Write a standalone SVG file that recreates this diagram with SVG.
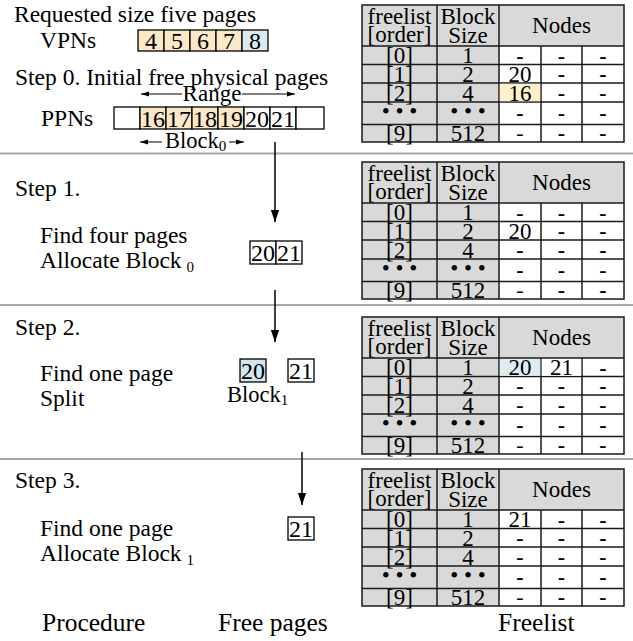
<svg xmlns="http://www.w3.org/2000/svg" width="633" height="641" viewBox="0 0 633 641" font-family="'Liberation Serif', 'Times New Roman', serif">
  <style>
    text { font-family: "Liberation Serif", "Times New Roman", serif; fill: #000; }
    .lbl { font-size: 23.5px; }
    .big { font-size: 25.5px; }
    .cell { font-size: 23px; text-anchor: middle; }
    .num { font-size: 24px; text-anchor: middle; }
    .hdr { font-size: 23px; text-anchor: middle; }
    .dash { font-size: 22px; font-weight: bold; text-anchor: middle; }
    .thin { font-size: 22px; text-anchor: middle; }
    .sub { font-size: 15px; }
    .box { stroke: #000; stroke-width: 1.3; }
    .grid { stroke: #1a1a1a; stroke-width: 1.5; fill: none; }
    .sep { stroke: #a6a6a6; stroke-width: 2; }
    .wire { stroke: #000; stroke-width: 1.5; fill: none; }
    .thinwire { stroke: #000; stroke-width: 1; fill: none; }
  </style>
  <defs>
    <marker id="tip" markerWidth="12" markerHeight="10" refX="13" refY="5" orient="auto" markerUnits="userSpaceOnUse" viewBox="0 0 13 10">
      <path d="M0,0.5 L13,5 L0,9.5 Z" fill="#000"/>
    </marker>
    <marker id="small" markerWidth="8" markerHeight="6" refX="8" refY="3" orient="auto" markerUnits="userSpaceOnUse" viewBox="0 0 8 6">
      <path d="M0,0.5 L8,3 L0,5.5 Z" fill="#000"/>
    </marker>
    <!-- freelist table frame: header, order and size columns, node grid -->
    <g id="freelist-frame">
      <rect x="362" y="0" width="262" height="41" fill="#d9d9d9"/>
      <rect x="362" y="41" width="137" height="96" fill="#d9d9d9"/>
      <rect x="499" y="41" width="125" height="96" fill="#fff"/>
      <rect class="grid" x="362" y="0" width="262" height="137"/>
      <line class="grid" x1="437" y1="0" x2="437" y2="137"/>
      <line class="grid" x1="499" y1="0" x2="499" y2="137"/>
      <line class="grid" x1="541" y1="41" x2="541" y2="137"/>
      <line class="grid" x1="582" y1="41" x2="582" y2="137"/>
      <line class="grid" x1="362" y1="41" x2="624" y2="41"/>
      <line class="grid" x1="362" y1="59.5" x2="624" y2="59.5"/>
      <line class="grid" x1="362" y1="78" x2="624" y2="78"/>
      <line class="grid" x1="362" y1="97" x2="624" y2="97"/>
      <line class="grid" x1="362" y1="119.5" x2="624" y2="119.5"/>
      <text class="hdr" x="399.5" y="19" font-size="24">freelist</text>
      <text class="hdr" x="399.5" y="37">[order]</text>
      <text class="hdr" x="468" y="19">Block</text>
      <text class="hdr" x="468" y="38">Size</text>
      <text class="hdr" x="561.5" y="28">Nodes</text>
      <text class="cell" x="399.5" y="58">[0]</text>
      <text class="cell" x="399.5" y="76.5">[1]</text>
      <text class="cell" x="399.5" y="95.5">[2]</text>
      <text class="cell" x="399.5" y="114">• • •</text>
      <text class="cell" x="399.5" y="135.5">[9]</text>
      <text class="cell" x="468" y="58">1</text>
      <text class="cell" x="468" y="76.5">2</text>
      <text class="cell" x="468" y="95.5">4</text>
      <text class="cell" x="468" y="114">• • •</text>
      <text class="cell" x="468" y="135.5">512</text>
      <!-- columns 2 and 3 of the node grid are empty in every row -->
      <g class="dash">
        <text x="561.5" y="57.5">-</text><text x="603" y="57.5">-</text>
        <text x="561.5" y="76">-</text><text x="603" y="76">-</text>
        <text x="561.5" y="95">-</text><text x="603" y="95">-</text>
        <text x="561.5" y="115">-</text><text x="603" y="115">-</text>
        <text x="561.5" y="135">-</text><text x="603" y="135">-</text>
      </g>
      <text class="thin" x="520" y="135">-</text>
    </g>
  </defs>

  <!-- section separators -->
  <g id="separators">
    <line class="sep" x1="0" y1="153.5" x2="633" y2="153.5"/>
    <line class="sep" x1="0" y1="305" x2="633" y2="305"/>
    <line class="sep" x1="0" y1="459" x2="633" y2="459"/>
  </g>

  <!-- step 0: request and initial pages -->
  <g id="step0">
    <text class="lbl" x="14" y="22">Requested size five pages</text>
    <text class="lbl" x="40" y="48">VPNs</text>
    <g id="vpns">
      <rect class="box" x="138" y="30" width="26" height="21" fill="#fbe8c6"/>
      <rect class="box" x="164" y="30" width="26" height="21" fill="#fbe8c6"/>
      <rect class="box" x="190" y="30" width="26" height="21" fill="#fbe8c6"/>
      <rect class="box" x="216" y="30" width="26" height="21" fill="#fbe8c6"/>
      <rect class="box" x="242" y="30" width="26" height="21" fill="#dbeaf0"/>
      <text class="num" x="151" y="48.5">4</text>
      <text class="num" x="177" y="48.5">5</text>
      <text class="num" x="203" y="48.5">6</text>
      <text class="num" x="229" y="48.5">7</text>
      <text class="num" x="255" y="48.5">8</text>
    </g>
    <text class="lbl" x="15" y="85">Step 0. Initial free physical pages</text>
    <g id="range">
      <line class="thinwire" x1="182" y1="94" x2="141" y2="94" marker-end="url(#small)"/>
      <line class="thinwire" x1="242" y1="94" x2="295" y2="94" marker-end="url(#small)"/>
      <text class="cell" x="212" y="101">Range</text>
    </g>
    <text class="lbl" x="41" y="126">PPNs</text>
    <g id="ppns">
      <rect class="box" x="114" y="107" width="26" height="22" fill="#fff"/>
      <rect class="box" x="140" y="107" width="26" height="22" fill="#fbe8c6"/>
      <rect class="box" x="166" y="107" width="26" height="22" fill="#fbe8c6"/>
      <rect class="box" x="192" y="107" width="26" height="22" fill="#fbe8c6"/>
      <rect class="box" x="218" y="107" width="26" height="22" fill="#fbe8c6"/>
      <rect class="box" x="244" y="107" width="26" height="22" fill="#fff"/>
      <rect class="box" x="270" y="107" width="26" height="22" fill="#fff"/>
      <rect class="box" x="296" y="107" width="28" height="22" fill="#fff"/>
      <text class="num" x="153" y="126.5">16</text>
      <text class="num" x="179" y="126.5">17</text>
      <text class="num" x="205" y="126.5">18</text>
      <text class="num" x="231" y="126.5">19</text>
      <text class="num" x="257" y="126.5">20</text>
      <text class="num" x="283" y="126.5">21</text>
    </g>
    <g id="block0">
      <line class="thinwire" x1="162" y1="142" x2="140" y2="142" marker-end="url(#small)"/>
      <line class="thinwire" x1="229" y1="142" x2="244" y2="142" marker-end="url(#small)"/>
      <text x="165" y="148" font-size="22.5">Block<tspan class="sub" dy="3">0</tspan></text>
    </g>
  </g>
  <g id="table0">
    <use href="#freelist-frame" transform="translate(0 5)"/>
    <g transform="translate(0 5)">
      <text class="dash" x="520" y="57.5">-</text>
      <text class="cell" x="520" y="76.5">20</text>
      <rect x="499.8" y="78.8" width="40.4" height="17.4" fill="#fff0cc"/>
      <text class="cell" x="520" y="95.5">16</text>
      <text class="dash" x="520" y="115">-</text>
    </g>
  </g>

  <!-- step 1 -->
  <g id="step1">
    <text class="lbl" x="15" y="196">Step 1.</text>
    <text class="lbl" x="40" y="243">Find four pages</text>
    <text class="lbl" x="40" y="268">Allocate Block<tspan class="sub" dx="5" dy="4">0</tspan></text>
    <rect class="box" x="250" y="241" width="26" height="23" fill="#fff"/>
    <rect class="box" x="276" y="241" width="26" height="23" fill="#fff"/>
    <text class="num" x="263" y="261">20</text>
    <text class="num" x="289" y="261">21</text>
  </g>
  <g id="table1">
    <use href="#freelist-frame" transform="translate(0 162)"/>
    <g transform="translate(0 162)">
      <text class="dash" x="520" y="57.5">-</text>
      <text class="cell" x="520" y="76.5">20</text>
      <text class="dash" x="520" y="95">-</text>
      <text class="dash" x="520" y="115">-</text>
    </g>
  </g>

  <!-- step 2 -->
  <g id="step2">
    <text class="lbl" x="15" y="335">Step 2.</text>
    <text class="lbl" x="40" y="381">Find one page</text>
    <text class="lbl" x="40" y="406">Split</text>
    <rect class="box" x="240" y="359" width="26" height="23" fill="#d2e6ef"/>
    <rect class="box" x="288" y="359" width="26" height="23" fill="#fff"/>
    <text class="num" x="253" y="379">20</text>
    <text class="num" x="301" y="379">21</text>
    <text x="227" y="402" font-size="22.5">Block<tspan class="sub" dy="3">1</tspan></text>
  </g>
  <g id="table2">
    <use href="#freelist-frame" transform="translate(0 317)"/>
    <g transform="translate(0 317)">
      <rect x="499.8" y="42" width="40.4" height="16.8" fill="#dcedf2"/>
      <text class="cell" x="520" y="58">20</text>
      <rect x="541.8" y="42" width="39.4" height="16.8" fill="#fff"/>
      <text class="cell" x="561.5" y="58">21</text>
      <text class="dash" x="520" y="76">-</text>
      <text class="dash" x="520" y="95">-</text>
      <text class="dash" x="520" y="115">-</text>
    </g>
  </g>

  <!-- step 3 -->
  <g id="step3">
    <text class="lbl" x="15" y="488">Step 3.</text>
    <text class="lbl" x="40" y="536">Find one page</text>
    <text class="lbl" x="40" y="561">Allocate Block<tspan class="sub" dx="5" dy="4">1</tspan></text>
    <rect class="box" x="288" y="517" width="26" height="23" fill="#fff"/>
    <text class="num" x="301" y="537">21</text>
  </g>
  <g id="table3">
    <use href="#freelist-frame" transform="translate(0 469)"/>
    <g transform="translate(0 469)">
      <text class="cell" x="520" y="58">21</text>
      <text class="dash" x="520" y="76">-</text>
      <text class="dash" x="520" y="95">-</text>
      <text class="dash" x="520" y="115">-</text>
    </g>
  </g>

  <!-- flow of free pages between steps -->
  <g id="connectors">
    <line class="wire" x1="275" y1="142" x2="275" y2="222" marker-end="url(#tip)"/>
    <line class="wire" x1="275" y1="290" x2="275" y2="342" marker-end="url(#tip)"/>
    <line class="wire" x1="302" y1="452" x2="302" y2="505" marker-end="url(#tip)"/>
  </g>

  <!-- column captions -->
  <g id="captions">
    <text class="big" x="42" y="631">Procedure</text>
    <text class="big" x="218" y="631">Free pages</text>
    <text class="big" x="498" y="631">Freelist</text>
  </g>
</svg>
